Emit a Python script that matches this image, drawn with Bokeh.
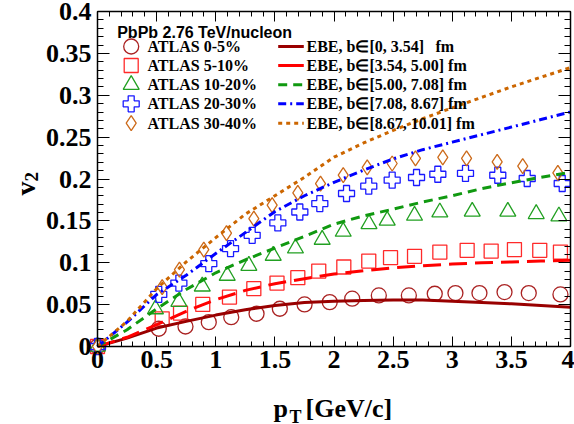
from math import pi
from bokeh.plotting import figure
from bokeh.models import Range1d, FixedTicker, LinearAxis, Label
from bokeh.embed import file_html
from bokeh.resources import INLINE

# ---------------- data ----------------
x_ticks = [0, 0.5, 1, 1.5, 2, 2.5, 3, 3.5, 4]
x_tick_labels = ["0", "0.5", "1", "1.5", "2", "2.5", "3", "3.5", "4"]
y_ticks = [0, 0.05, 0.1, 0.15, 0.2, 0.25, 0.3, 0.35, 0.4]
y_tick_labels = ["0", "0.05", "0.1", "0.15", "0.2", "0.25", "0.3", "0.35", "0.4"]

atlas_0_5_pt = [0, 0.518, 0.744, 0.941, 1.131, 1.345, 1.542, 1.751, 1.964, 2.154,
                2.379, 2.633, 2.852, 3.027, 3.230, 3.442, 3.647, 3.915]
atlas_0_5_v2 = [0, 0.0212, 0.0239, 0.0291, 0.0350, 0.0391, 0.0451, 0.0502, 0.0530, 0.0571,
                0.0610, 0.0610, 0.0630, 0.0638, 0.0638, 0.0650, 0.0638, 0.0622]

atlas_5_10_pt = [0, 0.547, 0.702, 0.890, 1.116, 1.322, 1.518, 1.694, 1.871, 2.083,
                 2.294, 2.478, 2.681, 2.895, 3.126, 3.329, 3.526, 3.740, 3.915]
atlas_5_10_v2 = [0, 0.0331, 0.0398, 0.0502, 0.0590, 0.0690, 0.0757, 0.0822, 0.0901, 0.0949,
                 0.1020, 0.1061, 0.1077, 0.1128, 0.1148, 0.1140, 0.1157, 0.1148, 0.1128]

atlas_10_20_pt = [0, 0.490, 0.688, 0.886, 1.097, 1.280, 1.486, 1.674, 1.900, 2.078,
                  2.296, 2.450, 2.681, 2.895, 3.169, 3.470, 3.710, 3.902]
atlas_10_20_v2 = [0, 0.0446, 0.0535, 0.0718, 0.0846, 0.0965, 0.1085, 0.1172, 0.1276, 0.1372,
                  0.1463, 0.1504, 0.1563, 0.1603, 0.1611, 0.1611, 0.1583, 0.1555]

atlas_20_30_pt = [0, 0.518, 0.688, 0.941, 1.125, 1.308, 1.525, 1.711, 1.880, 2.106,
                  2.294, 2.492, 2.698, 2.878, 3.112, 3.385, 3.634, 3.930]
atlas_20_30_v2 = [0, 0.0622, 0.0757, 0.0989, 0.1169, 0.1328, 0.1475, 0.1606, 0.1707, 0.1827,
                  0.1914, 0.1986, 0.2018, 0.2057, 0.2066, 0.2045, 0.2006, 0.1946]

atlas_30_40_pt = [0, 0.547, 0.693, 0.899, 1.091, 1.322, 1.477, 1.694, 1.886, 2.078,
                  2.281, 2.492, 2.689, 2.920, 3.121, 3.380, 3.596, 3.893]
atlas_30_40_v2 = [0, 0.0709, 0.0917, 0.1157, 0.1355, 0.1528, 0.1687, 0.1834, 0.1946, 0.2045,
                  0.2138, 0.2185, 0.2245, 0.2257, 0.2245, 0.2205, 0.2153, 0.2073]

ebe_pt = [0, 0.25, 0.5, 0.75, 1.0, 1.25, 1.5, 1.75, 2.0, 2.25, 2.5, 2.75, 3.0, 3.25, 3.5, 3.75, 4.0]
ebe_b_0_354 = [0, 0.010, 0.022, 0.030, 0.0375, 0.044, 0.049, 0.0525, 0.054, 0.055, 0.0555,
               0.0555, 0.054, 0.0525, 0.051, 0.049, 0.047]
ebe_b_354_500 = [0, 0.011, 0.026, 0.042, 0.056, 0.067, 0.075, 0.081, 0.0865, 0.0905, 0.094,
                 0.0965, 0.0985, 0.100, 0.101, 0.102, 0.103]
ebe_b_500_708 = [0, 0.020, 0.045, 0.068, 0.088, 0.1035, 0.1175, 0.1315, 0.146, 0.156, 0.164,
                 0.1725, 0.180, 0.1885, 0.1955, 0.202, 0.208]
ebe_b_708_867 = [0, 0.029, 0.062, 0.085, 0.111, 0.136, 0.161, 0.180, 0.196, 0.2105, 0.224,
                 0.235, 0.244, 0.253, 0.262, 0.271, 0.280]
ebe_b_867_1001 = [0, 0.030, 0.069, 0.101, 0.130, 0.158, 0.180, 0.202, 0.226, 0.243, 0.258,
                  0.272, 0.285, 0.2975, 0.310, 0.3215, 0.333]

atlas_labels = ["ATLAS 0-5%", "ATLAS 5-10%", "ATLAS 10-20%", "ATLAS 20-30%", "ATLAS 30-40%"]
ebe_labels = ["EBE, b\u2208[0, 3.54]", "EBE, b\u2208[3.54, 5.00] fm", "EBE, b\u2208[5.00, 7.08] fm",
              "EBE, b\u2208[7.08, 8.67] fm", "EBE, b\u2208[8.67, 10.01] fm"]
title_text = "PbPb 2.76 TeV/nucleon"

# ---------------- styles / layout ----------------
marker_colors = ["#aa2222", "#ff2a2a", "#22a022", "#1a1aff", "#cc6a1a"]
marker_kinds = ["circle", "square", "triangle", "plus", "diamond"]
marker_sizes = [15, 14, 16, 16, 15]
line_colors = ["#990000", "#ff0000", "#109910", "#0000ff", "#cc6600"]
line_dashes = ["solid", "18 8", "9 6", "8 4 2 4", "4 4"]
legend_dashes = ["solid", "solid", "9 6", "8 4 2 4", "4 4"]
SERIF = "Liberation Serif"
SANS = "Liberation Sans"

W, H = 574, 424
X0, X1, Y0, Y1 = 0.0, 4.0, 0.0, 0.4          # axis box in data units
BL, BR, BT, BB = 97, 570, 11, 346           # axis box in canvas pixels
KX = (BR - BL) / (X1 - X0)
KY = (BB - BT) / (Y1 - Y0)


def dx(px):
    return X0 + (px - BL) / KX


def dy(py):
    return Y0 + (BB - py) / KY


p = figure(width=W, height=H, min_border=0,
           x_range=Range1d(dx(0), dx(W)), y_range=Range1d(dy(H), dy(0)),
           output_backend="svg", toolbar_location=None)
p.xgrid.visible = False
p.ygrid.visible = False
p.outline_line_color = None
p.background_fill_color = "white"
p.border_fill_color = "white"

x_minor = [i * 0.1 for i in range(41)]
y_minor = [i * 0.01 for i in range(41)]


def style_axis(ax, ticks, minor, labels, tin, show, loc, bounds):
    ax.fixed_location = loc
    ax.bounds = bounds
    ax.ticker = FixedTicker(ticks=ticks, minor_ticks=minor)
    ax.major_tick_in = tin
    ax.major_tick_out = 0
    ax.minor_tick_in = tin // 2
    ax.minor_tick_out = 0
    ax.axis_line_width = 1.5
    ax.major_tick_line_width = 1
    ax.minor_tick_line_width = 1
    ax.axis_label = None
    if show:
        ax.major_label_overrides = {t: l for t, l in zip(ticks, labels)}
        ax.major_label_text_font = SERIF
        ax.major_label_text_font_style = "bold"
        ax.major_label_text_font_size = "26px"
        ax.major_label_text_color = "black"
    else:
        ax.major_label_overrides = {t: "" for t in ticks}
        ax.major_label_text_font_size = "1px"
        ax.major_label_standoff = 0


style_axis(p.xaxis[0], x_ticks, x_minor, x_tick_labels, 10, True, Y0, (X0, X1))
p.xaxis[0].major_label_standoff = 4
style_axis(p.yaxis[0], y_ticks, y_minor, y_tick_labels, 12, True, X0, (Y0, Y1))
p.yaxis[0].major_label_standoff = 6

ax_top = LinearAxis()
style_axis(ax_top, x_ticks, x_minor, x_tick_labels, 10, False, Y1, (X0, X1))
p.add_layout(ax_top, "above")
ax_right = LinearAxis()
style_axis(ax_right, y_ticks, y_minor, y_tick_labels, 12, False, X1, (Y0, Y1))
p.add_layout(ax_right, "right")

# ---------------- data marks ----------------
atlas = [(atlas_0_5_pt, atlas_0_5_v2), (atlas_5_10_pt, atlas_5_10_v2),
         (atlas_10_20_pt, atlas_10_20_v2), (atlas_20_30_pt, atlas_20_30_v2),
         (atlas_30_40_pt, atlas_30_40_v2)]
for (xs, ys), c, m, s in zip(atlas, marker_colors, marker_kinds, marker_sizes):
    p.scatter(xs, ys, marker=m, size=s, line_color=c, fill_color=None, line_width=1.3)

ebe = [ebe_b_0_354, ebe_b_354_500, ebe_b_500_708, ebe_b_708_867, ebe_b_867_1001]
for ys, c, d in zip(ebe, line_colors, line_dashes):
    p.line(ebe_pt, ys, line_color=c, line_width=3, line_dash=d)


# ---------------- legend and titles ----------------
def lab(px, py, text, size, font=SERIF, baseline="middle", angle=0.0):
    p.add_layout(Label(x=dx(px), y=dy(py), text=text, text_font=font,
                       text_font_style="bold", text_font_size=size, angle=angle,
                       text_baseline=baseline, text_align="left", text_color="black"))


row_py = [46, 65, 84.3, 103.3, 122.7]
lab(116.7, 31.7, title_text, "16px", font=SANS, baseline="alphabetic")
for i, py in enumerate(row_py):
    p.scatter([dx(130.7)], [dy(py)], marker=marker_kinds[i], size=marker_sizes[i],
              line_color=marker_colors[i], fill_color=None, line_width=1.3)
    lab(147, py, atlas_labels[i], "16px")
    p.segment([dx(277.7)], [dy(py)], [dx(303.3)], [dy(py)], line_color=line_colors[i],
              line_width=3, line_dash=legend_dashes[i])
    lab(306, py, ebe_labels[i], "16px")
lab(435, row_py[0], "fm", "16px")

# axis titles
lab(273, 408, "p", "26px", baseline="alphabetic")
lab(289, 416, "T", "18px", baseline="alphabetic")
lab(305, 408, "[GeV/c]", "26px", baseline="alphabetic")
lab(25, 195, "v", "28px", baseline="alphabetic", angle=pi / 2)
lab(31, 181, "2", "19px", baseline="alphabetic", angle=pi / 2)

open("out.html", "w").write(file_html(p, INLINE))
